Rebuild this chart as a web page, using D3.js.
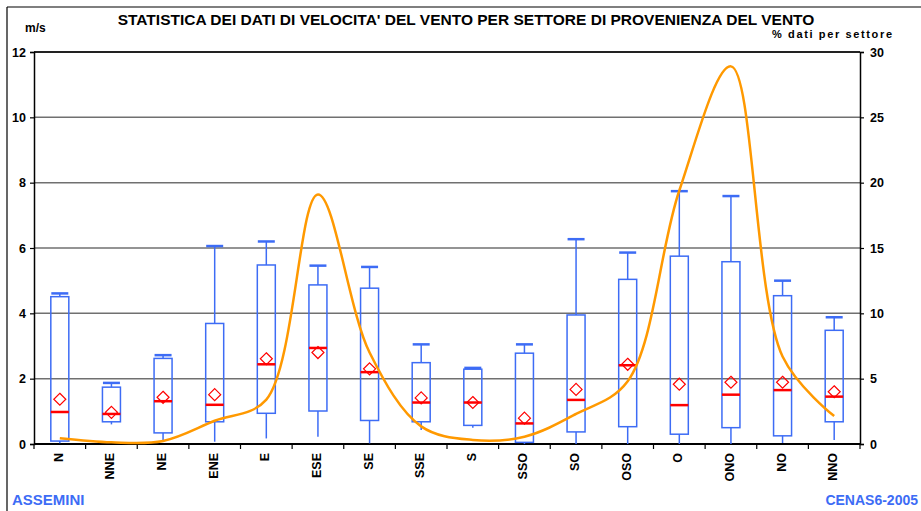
<!DOCTYPE html>
<html>
<head>
<meta charset="utf-8">
<script src="https://cdn.jsdelivr.net/npm/d3@7"></script>
<style>
  body { margin: 0; background: #fff; }
  svg { display: block; font-family: Arial, "Liberation Sans", sans-serif; font-weight: bold; }
</style>
</head>
<body>
<div id="chart"></div>
<script>
// sectors
const sectors = ["N", "NNE", "NE", "ENE", "E", "ESE", "SE", "SSE", "S", "SSO", "SO", "OSO", "O", "ONO", "NO", "NNO"];
// wind speed statistics, m/s
const whiskerLow  = [0.02, 0.60, 0.12, 0.07, 0.17, 0.22, 0.02, 0.43, 0.50, 0.00, 0.00, 0.00, 0.00, 0.00, 0.03, 0.12];
const boxLow      = [0.09, 0.68, 0.34, 0.68, 0.94, 1.01, 0.72, 0.68, 0.57, 0.05, 0.37, 0.53, 0.30, 0.50, 0.25, 0.68];
const medians     = [0.98, 0.92, 1.31, 1.20, 2.44, 2.94, 2.20, 1.27, 1.27, 0.63, 1.35, 2.41, 1.19, 1.51, 1.65, 1.45];
const boxHigh     = [4.51, 1.74, 2.62, 3.69, 5.48, 4.87, 4.77, 2.49, 2.29, 2.78, 3.95, 5.04, 5.75, 5.58, 4.54, 3.48];
const whiskerHigh = [4.61, 1.87, 2.72, 6.06, 6.20, 5.46, 5.42, 3.05, 2.33, 3.05, 6.27, 5.86, 7.74, 7.59, 5.00, 3.88];
const means       = [1.37, 0.97, 1.43, 1.51, 2.61, 2.80, 2.30, 1.41, 1.27, 0.79, 1.67, 2.44, 1.83, 1.89, 1.89, 1.60];
// % of data per sector
const percent     = [0.44, 0.13, 0.23, 1.78, 3.4, 19.1, 7.0, 1.35, 0.31, 0.56, 2.3, 4.8, 19.4, 28.9, 6.7, 2.14];
// axis ticks
const leftTicks = [0, 2, 4, 6, 8, 10, 12];
const rightTicks = [0, 5, 10, 15, 20, 25, 30];

const width = 921, height = 511;
const plotLeft = 34, plotRight = 860, plotTop = 52, plotBottom = 444;
const blue = "#3d6cf5", red = "#ff0000", orange = "#ff9900";

const svg = d3.select("#chart").append("svg")
    .attr("width", width)
    .attr("height", height);

const x = d3.scaleBand().domain(sectors).range([plotLeft, plotRight]).padding(0);
const y = d3.scaleLinear().domain([0, 12]).range([plotBottom, plotTop]);
const y2 = d3.scaleLinear().domain([0, 30]).range([plotBottom, plotTop]);

// outer frame (top and left only)
svg.append("line").attr("x1", 7).attr("x2", width).attr("y1", 7).attr("y2", 7)
    .attr("stroke", "#000").attr("stroke-width", 1.2);
svg.append("line").attr("x1", 7).attr("x2", 7).attr("y1", 7).attr("y2", height)
    .attr("stroke", "#000").attr("stroke-width", 1.2);

// gridlines
svg.append("g").selectAll("line").data(leftTicks.slice(1)).join("line")
    .attr("x1", plotLeft).attr("x2", plotRight)
    .attr("y1", d => y(d)).attr("y2", d => y(d))
    .attr("stroke", d => d === 12 ? "#222" : "#707070")
    .attr("stroke-width", d => d === 12 ? 2 : 1.5);

// left axis
const yAxis = svg.append("g").attr("transform", `translate(${plotLeft},0)`)
    .call(d3.axisLeft(y).tickValues(leftTicks).tickSize(4).tickPadding(4));
// right axis
const y2Axis = svg.append("g").attr("transform", `translate(${plotRight},0)`)
    .call(d3.axisRight(y2).tickValues(rightTicks).tickSize(4).tickPadding(6));
[yAxis, y2Axis].forEach(g => {
    g.select(".domain").attr("stroke", "#000").attr("stroke-width", 1.5);
    g.selectAll(".tick line").attr("stroke", "#000").attr("stroke-width", 1.2);
    g.selectAll(".tick text").attr("font-size", 12.5).attr("font-weight", "bold")
        .attr("font-family", "Arial, 'Liberation Sans', sans-serif").attr("fill", "#000");
});

// bottom axis: ticks between categories, labels rotated
const xAxis = svg.append("g").attr("transform", `translate(0,${plotBottom})`);
xAxis.append("line").attr("x1", plotLeft).attr("x2", plotRight)
    .attr("stroke", "#000").attr("stroke-width", 1.8);
xAxis.selectAll("line.tk").data(sectors.concat(["end"])).join("line")
    .attr("class", "tk")
    .attr("x1", (d, i) => plotLeft + i * x.bandwidth())
    .attr("x2", (d, i) => plotLeft + i * x.bandwidth())
    .attr("y1", 0).attr("y2", 5)
    .attr("stroke", "#000").attr("stroke-width", 1.2);
xAxis.selectAll("text").data(sectors).join("text")
    .attr("transform", d => `translate(${x(d) + x.bandwidth() / 2 + 3},9) rotate(-90)`)
    .attr("text-anchor", "end")
    .attr("font-size", 12.5)
    .text(d => d);

// boxes
const bw = 18, cw = 17;
const boxes = svg.append("g").selectAll("g").data(sectors).join("g")
    .attr("transform", d => `translate(${x(d) + x.bandwidth() / 2},0)`);

boxes.append("line")
    .attr("y1", (d, i) => y(whiskerLow[i])).attr("y2", (d, i) => y(boxLow[i]))
    .attr("stroke", blue).attr("stroke-width", 1.5);
boxes.append("line")
    .attr("y1", (d, i) => y(boxHigh[i])).attr("y2", (d, i) => y(whiskerHigh[i]))
    .attr("stroke", blue).attr("stroke-width", 1.5);
boxes.append("line")
    .attr("x1", -cw / 2).attr("x2", cw / 2)
    .attr("y1", (d, i) => y(whiskerHigh[i])).attr("y2", (d, i) => y(whiskerHigh[i]))
    .attr("stroke", blue).attr("stroke-width", 2.5);
boxes.append("rect")
    .attr("x", -bw / 2).attr("width", bw)
    .attr("y", (d, i) => y(boxHigh[i]))
    .attr("height", (d, i) => y(boxLow[i]) - y(boxHigh[i]))
    .attr("fill", "none").attr("stroke", blue).attr("stroke-width", 1.5);
boxes.append("line")
    .attr("x1", -bw / 2).attr("x2", bw / 2)
    .attr("y1", (d, i) => y(medians[i])).attr("y2", (d, i) => y(medians[i]))
    .attr("stroke", red).attr("stroke-width", 2.5);
boxes.append("path")
    .attr("d", (d, i) => {
        const cy = y(means[i]), r = 6;
        return `M0,${cy - r}L${r},${cy}L0,${cy + r}L${-r},${cy}Z`;
    })
    .attr("fill", "none").attr("stroke", red).attr("stroke-width", 1.2);

// % line
const line = d3.line()
    .x((d, i) => x(sectors[i]) + x.bandwidth() / 2)
    .y(d => y2(d))
    .curve(d3.curveCatmullRom.alpha(0.5));
svg.append("path").datum(percent)
    .attr("d", line)
    .attr("fill", "none").attr("stroke", orange).attr("stroke-width", 2.5);

// texts
svg.append("text").attr("x", 466).attr("y", 25).attr("text-anchor", "middle")
    .attr("font-size", 15.5).text("STATISTICA DEI DATI DI VELOCITA' DEL VENTO PER SETTORE DI PROVENIENZA DEL VENTO");
svg.append("text").attr("x", 25).attr("y", 32).attr("font-size", 12).text("m/s");
svg.append("text").attr("x", 772).attr("y", 38)
    .attr("font-size", 11).attr("textLength", 120).attr("lengthAdjust", "spacing")
    .text("% dati per settore");
svg.append("text").attr("x", 12).attr("y", 505).attr("font-size", 15)
    .attr("fill", blue).text("ASSEMINI");
svg.append("text").attr("x", 918).attr("y", 505).attr("text-anchor", "end").attr("font-size", 14)
    .attr("fill", blue).text("CENAS6-2005");
</script>
</body>
</html>
